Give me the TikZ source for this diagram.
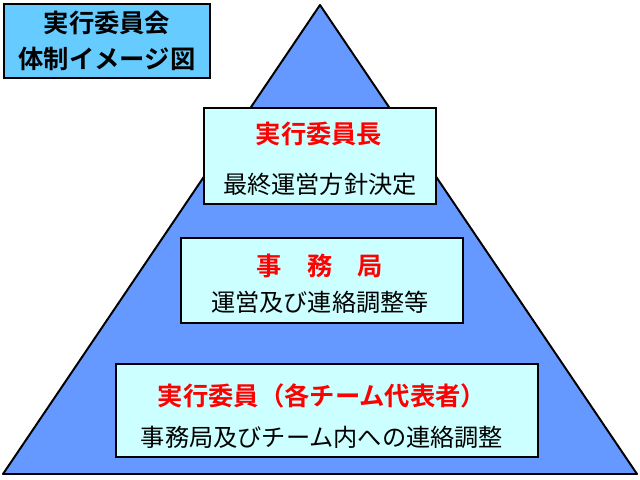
\documentclass[tikz,border=0pt]{standalone}
\usepackage{fontspec}
\newfontfamily\jp[BoldFont={Noto Sans CJK JP Bold}]{Noto Sans CJK JP}
\usetikzlibrary{positioning}
\definecolor{pyramidblue}{HTML}{6699FF}
\definecolor{panelcyan}{HTML}{CCFFFF}
\definecolor{titlecyan}{HTML}{66CCFF}
\definecolor{headred}{HTML}{FF0000}
\tikzset{
  panel/.style={
    draw=black,
    line width=1.4pt,
    fill=panelcyan,
    inner sep=0pt
  },
  headtext/.style={
    text=headred,
    font=\jp\bfseries\fontsize{18}{20}\selectfont
  },
  roletext/.style={
    text=black,
    font=\jp\fontsize{17.2}{19}\selectfont
  }
}

\begin{document}
\begin{tikzpicture}[x=0.025cm,y=-0.025cm]
\useasboundingbox (0,0) rectangle (640,480);
\fill[white] (0,0) rectangle (640,480);
% pyramid
\coordinate (apex) at (320,5);
\coordinate (baseL) at (3,474);
\coordinate (baseR) at (637,474);
\draw[fill=pyramidblue,line width=1.4pt,line join=round] (apex) -- (baseR) -- (baseL) -- cycle;
% title
\node[panel,fill=titlecyan,minimum width=5.15cm,minimum height=1.85cm] (title) at (107,41) {};
\node[font=\jp\bfseries\fontsize{18}{26}\selectfont,align=center] (titletext) at (title) {実行委員会\\体制イメージ図};
% top level
\node[panel,minimum width=5.8cm,minimum height=2.4cm] (chief) at (320,156) {};
\node[headtext] (chiefhead) at (319,134) {実行委員長};
\node[roletext] (chiefrole) at (320,184) {最終運営方針決定};
% middle level
\node[panel,minimum width=7.05cm,minimum height=2.125cm] (office) at (322,280.5) {};
\node[headtext] (officehead) at (320,266) {事　務　局};
\node[roletext] (officerole) at (320,302) {運営及び連絡調整等};
% bottom level
\node[panel,minimum width=10.55cm,minimum height=2.325cm] (members) at (327,410.5) {};
\node[headtext] (membershead) at (322,396) {実行委員（各チーム代表者）};
\node[roletext] (membersrole) at (322,437) {事務局及びチーム内への連絡調整};
\end{tikzpicture}
\end{document}
